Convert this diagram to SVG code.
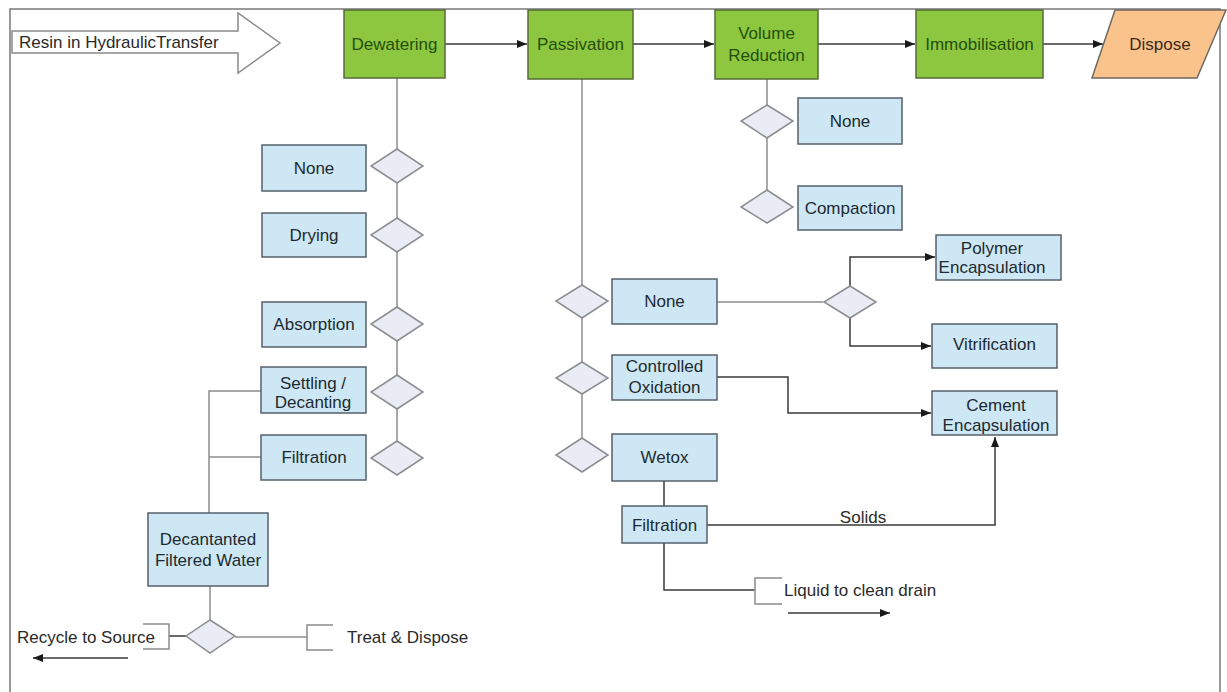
<svg xmlns="http://www.w3.org/2000/svg" width="1227" height="692" viewBox="0 0 1227 692">
  <style>
    text { font-family: "Liberation Sans", Arial, sans-serif; font-size: 17px; }
    .stage { fill: #8dc63f; stroke: #556b3a; stroke-width: 1.5; }
    .stage-t { fill: #24500c; text-anchor: middle; }
    .opt { fill: #cde7f5; stroke: #56606a; stroke-width: 1.5; }
    .opt-t { fill: #1e2a30; text-anchor: middle; }
    .dec { fill: #e9ecf4; stroke: #8a8d92; stroke-width: 1.5; }
    .wire { fill: none; stroke: #8c8c8c; stroke-width: 1.5; }
    .flow { fill: none; stroke: #3a3a3a; stroke-width: 1.5; }
    .note { fill: none; stroke: #8c8c8c; stroke-width: 1.5; }
    .plain { fill: #2a2a2a; }
  </style>
  <defs>
    <marker id="arr" viewBox="0 0 10 8" refX="10" refY="4" markerWidth="10" markerHeight="8" markerUnits="userSpaceOnUse" orient="auto">
      <path d="M0,0 L10,4 L0,8 Z" fill="#1a1a1a"/>
    </marker>
  </defs>

  <rect width="1227" height="692" fill="#ffffff"/>
  <!-- outer frame -->
  <path d="M10,700 L10,9 L1220,9 L1220,700" fill="none" stroke="#7a7a7a" stroke-width="1.5"/>

  <!-- connectors -->
  <g id="connectors">
    <!-- main process chain -->
    <path class="flow" d="M445,44 L527,44" marker-end="url(#arr)"/>
    <path class="flow" d="M633,44 L714,44" marker-end="url(#arr)"/>
    <path class="flow" d="M818,44 L915,44" marker-end="url(#arr)"/>
    <path class="flow" d="M1043,44 L1103,44" marker-end="url(#arr)"/>
    <!-- dewatering options spine -->
    <path class="wire" d="M397,78 L397,441"/>
    <!-- decant / filtration water return -->
    <path class="wire" d="M261,391 L209,391 L209,513"/>
    <path class="wire" d="M261,457 L209,457"/>
    <path class="wire" d="M210,586 L210,620"/>
    <path class="flow" d="M186,636 L169,636"/>
    <path class="wire" d="M235,637 L307,637"/>
    <!-- passivation options spine -->
    <path class="wire" d="M582,79 L582,438"/>
    <!-- volume reduction spine -->
    <path class="wire" d="M767,79 L767,190"/>
    <!-- passivation outputs -->
    <path class="wire" d="M717,302 L823,302"/>
    <path class="flow" d="M850,286 L850,257 L935,257" marker-end="url(#arr)"/>
    <path class="flow" d="M850,318 L850,346 L931,346" marker-end="url(#arr)"/>
    <path class="flow" d="M717,377 L788,377 L788,413 L931,413" marker-end="url(#arr)"/>
    <!-- wetox filtration -->
    <path class="flow" d="M664,481 L664,506"/>
    <path class="flow" d="M707,525 L995,525 L995,437" marker-end="url(#arr)"/>
    <path class="flow" d="M664,543 L664,590 L755,590"/>
    <!-- direction arrows -->
    <path class="flow" d="M128,658 L33,658" marker-end="url(#arr)"/>
    <path class="flow" d="M788,613 L890,613" marker-end="url(#arr)"/>
  </g>

  <!-- feed -->
  <g id="feed">
    <path d="M12,31 L238,31 L238,13 L280,43 L238,73 L238,53 L12,53 Z" fill="#ffffff" stroke="#8a8a8a" stroke-width="1.5"/>
    <text x="19" y="48" class="plain">Resin in HydraulicTransfer</text>
  </g>

  <!-- process stages -->
  <g id="dewatering">
    <rect class="stage" x="344" y="10" width="101" height="68"/>
    <text class="stage-t" x="394.5" y="50">Dewatering</text>
  </g>
  <g id="passivation">
    <rect class="stage" x="528" y="10" width="105" height="69"/>
    <text class="stage-t" x="580.5" y="50">Passivation</text>
  </g>
  <g id="volume-reduction">
    <rect class="stage" x="715" y="10" width="103" height="69"/>
    <text class="stage-t" x="766.5" y="39">Volume</text>
    <text class="stage-t" x="766.5" y="61">Reduction</text>
  </g>
  <g id="immobilisation">
    <rect class="stage" x="916" y="10" width="127" height="68"/>
    <text class="stage-t" x="979.5" y="50">Immobilisation</text>
  </g>
  <g id="dispose">
    <path d="M1115,10 L1226,10 L1197,78 L1092,78 Z" fill="#fbc38c" stroke="#6d6a60" stroke-width="1.5"/>
    <text x="1160" y="50" text-anchor="middle" fill="#3a2a1a">Dispose</text>
  </g>

  <!-- dewatering options -->
  <g id="dw-none">
    <rect class="opt" x="262" y="145" width="104" height="46"/>
    <text class="opt-t" x="314" y="174">None</text>
    <path class="dec" d="M397,149 L423,166 L397,183 L371,166 Z"/>
  </g>
  <g id="dw-drying">
    <rect class="opt" x="262" y="213" width="104" height="44"/>
    <text class="opt-t" x="314" y="241">Drying</text>
    <path class="dec" d="M397,218 L423,235 L397,252 L371,235 Z"/>
  </g>
  <g id="dw-absorption">
    <rect class="opt" x="262" y="302" width="104" height="45"/>
    <text class="opt-t" x="314" y="330">Absorption</text>
    <path class="dec" d="M397,307 L423,324 L397,341 L371,324 Z"/>
  </g>
  <g id="dw-settling">
    <rect class="opt" x="261" y="367" width="105" height="46"/>
    <text class="opt-t" x="313" y="389">Settling /</text>
    <text class="opt-t" x="313" y="408">Decanting</text>
    <path class="dec" d="M397,375 L423,392 L397,409 L371,392 Z"/>
  </g>
  <g id="dw-filtration">
    <rect class="opt" x="261" y="435" width="105" height="45"/>
    <text class="opt-t" x="314" y="463">Filtration</text>
    <path class="dec" d="M397,441 L423,458 L397,475 L371,458 Z"/>
  </g>

  <!-- water handling -->
  <g id="filtered-water">
    <rect class="opt" x="148" y="513" width="120" height="73"/>
    <text class="opt-t" x="208" y="545">Decantanted</text>
    <text class="opt-t" x="208" y="566">Filtered Water</text>
  </g>
  <g id="water-choice">
    <path class="dec" d="M210,620 L235,636 L210,653 L186,636 Z"/>
  </g>
  <g id="recycle">
    <path class="note" d="M143,624 L169,624 L169,649 L143,649"/>
    <text x="17" y="643" class="plain">Recycle to Source</text>
  </g>
  <g id="treat">
    <path class="note" d="M333,625 L307,625 L307,650 L333,650"/>
    <text x="347" y="643" class="plain">Treat &amp; Dispose</text>
  </g>

  <!-- passivation options -->
  <g id="pv-none">
    <rect class="opt" x="612" y="279" width="105" height="45"/>
    <text class="opt-t" x="664.5" y="307">None</text>
    <path class="dec" d="M582,285 L608,301 L582,318 L556,301 Z"/>
  </g>
  <g id="pv-oxidation">
    <rect class="opt" x="612" y="355" width="105" height="45"/>
    <text class="opt-t" x="664.5" y="372">Controlled</text>
    <text class="opt-t" x="664.5" y="393">Oxidation</text>
    <path class="dec" d="M582,362 L608,378 L582,394 L556,378 Z"/>
  </g>
  <g id="pv-wetox">
    <rect class="opt" x="612" y="434" width="105" height="47"/>
    <text class="opt-t" x="664.5" y="463">Wetox</text>
    <path class="dec" d="M582,438 L608,455 L582,472 L556,455 Z"/>
  </g>
  <g id="wetox-filtration">
    <rect class="opt" x="622" y="506" width="85" height="37"/>
    <text class="opt-t" x="664.5" y="531">Filtration</text>
  </g>
  <g id="solids-label">
    <text x="863" y="523" text-anchor="middle" class="plain">Solids</text>
  </g>
  <g id="drain">
    <path class="note" d="M782,578 L755,578 L755,604 L782,604"/>
    <text x="784" y="596" class="plain">Liquid to clean drain</text>
  </g>

  <!-- volume reduction options -->
  <g id="vr-none">
    <rect class="opt" x="798" y="98" width="104" height="46"/>
    <text class="opt-t" x="850" y="127">None</text>
    <path class="dec" d="M767,105 L793,121 L767,138 L741,121 Z"/>
  </g>
  <g id="vr-compaction">
    <rect class="opt" x="798" y="186" width="104" height="44"/>
    <text class="opt-t" x="850" y="214">Compaction</text>
    <path class="dec" d="M767,190 L793,207 L767,223 L741,207 Z"/>
  </g>

  <!-- immobilisation options -->
  <g id="im-choice">
    <path class="dec" d="M850,286 L876,302 L850,318 L824,302 Z"/>
  </g>
  <g id="polymer">
    <rect class="opt" x="936" y="235" width="125" height="45"/>
    <text class="opt-t" x="992" y="254">Polymer</text>
    <text class="opt-t" x="992" y="273">Encapsulation</text>
  </g>
  <g id="vitrification">
    <rect class="opt" x="932" y="324" width="125" height="44"/>
    <text class="opt-t" x="994.5" y="350">Vitrification</text>
  </g>
  <g id="cement">
    <rect class="opt" x="932" y="391" width="125" height="44"/>
    <text class="opt-t" x="996" y="411">Cement</text>
    <text class="opt-t" x="996" y="431">Encapsulation</text>
  </g>
</svg>
